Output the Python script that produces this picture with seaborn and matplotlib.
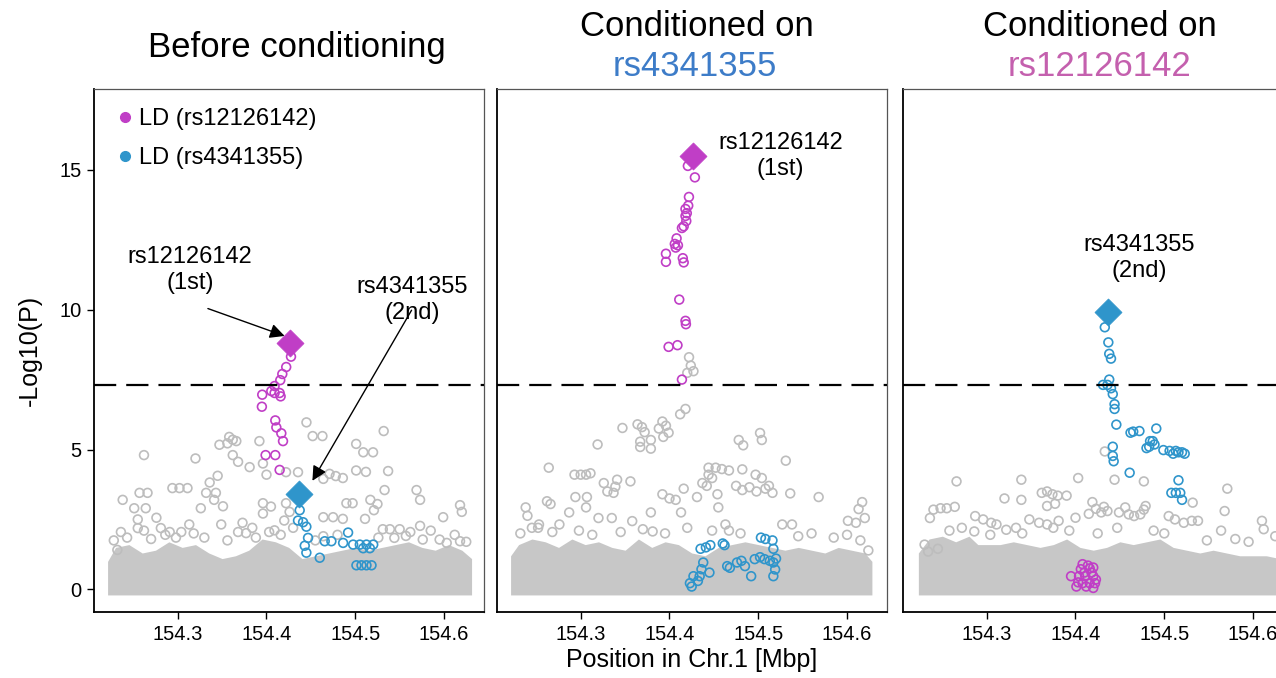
import matplotlib
matplotlib.use('Agg')
import matplotlib.pyplot as plt
from matplotlib.lines import Line2D
import seaborn as sns

# ---- data (position in Mbp, -log10 P) ----
lead1_pos, lead2_pos = 154.427, 154.437   # rs12126142, rs4341355
gw_line = 7.30

# panel 1: before conditioning
p1_lead1_logp = 8.80
p1_lead2_logp = 3.40
p1_mag_pos = [154.4276, 154.4222, 154.4178, 154.4155, 154.4091, 154.4054, 154.4091, 154.4148,
              154.4159, 154.3952, 154.3948, 154.4099, 154.4111, 154.4167, 154.4186, 154.3990,
              154.4099, 154.4148]
p1_mag_logp = [8.32, 7.95, 7.70, 7.48, 7.27, 7.09, 7.02, 7.02,
               6.90, 6.96, 6.53, 6.04, 5.79, 5.58, 5.30, 4.80,
               4.80, 4.27]
p1_blue_pos = [154.4374, 154.4355, 154.4412, 154.4449, 154.4468, 154.4431, 154.4449, 154.4600,
               154.4656, 154.4731, 154.4863, 154.4919, 154.4976, 154.5051, 154.5126, 154.5202,
               154.5089, 154.5164, 154.5070, 154.5126, 154.5183, 154.5013]
p1_blue_logp = [2.83, 2.46, 2.40, 2.24, 1.84, 1.56, 1.31, 1.13,
                1.72, 1.72, 1.66, 2.03, 1.60, 1.60, 1.60, 1.60,
                1.47, 1.47, 0.86, 0.86, 0.86, 0.86]
p1_grey_pos = [154.445, 154.532, 154.452, 154.463, 154.358, 154.362, 154.366, 154.356, 154.347,
               154.362, 154.368, 154.381, 154.392, 154.396, 154.262, 154.320, 154.422, 154.4355,
               154.471, 154.478, 154.486, 154.464, 154.501, 154.509, 154.520, 154.501, 154.512,
               154.537, 154.533, 154.569, 154.573, 154.618, 154.620, 154.599, 154.618, 154.238,
               154.257, 154.266, 154.251, 154.264, 154.294, 154.302, 154.311, 154.336, 154.332,
               154.343, 154.345, 154.341, 154.326, 154.351, 154.349, 154.373, 154.377, 154.368,
               154.313, 154.276, 154.281, 154.291, 154.304, 154.255, 154.255, 154.236, 154.396,
               154.405, 154.396, 154.409, 154.420, 154.422, 154.426, 154.464, 154.475, 154.486,
               154.490, 154.497, 154.517, 154.521, 154.525, 154.511, 154.531, 154.539, 154.550,
               154.544, 154.557, 154.573, 154.576, 154.595, 154.603, 154.464, 154.232, 154.400,
               154.228, 154.243, 154.262, 154.270, 154.286, 154.298, 154.318, 154.330, 154.356,
               154.384, 154.388, 154.403, 154.416, 154.430, 154.455, 154.480, 154.526, 154.562,
               154.585, 154.612, 154.625]
p1_grey_logp = [5.97, 5.66, 5.48, 5.48, 5.45, 5.35, 5.30, 5.22, 5.17,
                4.80, 4.56, 4.37, 5.30, 4.50, 4.80, 4.68, 4.19, 4.19,
                4.13, 4.05, 3.98, 3.95, 5.20, 4.90, 4.90, 4.25, 4.20,
                4.23, 3.55, 3.55, 3.20, 3.01, 2.77, 2.58, 1.72, 3.20,
                3.45, 3.45, 2.90, 2.90, 3.62, 3.62, 3.62, 3.82, 3.45,
                3.45, 4.06, 3.20, 2.90, 2.97, 2.32, 2.38, 2.01, 2.05,
                2.32, 2.56, 2.19, 2.05, 2.05, 2.50, 2.19, 2.05, 3.08,
                2.96, 2.71, 2.11, 2.46, 3.08, 2.77, 2.58, 2.58, 2.52,
                3.08, 3.08, 3.20, 2.83, 3.05, 2.52, 2.15, 2.15, 2.15,
                1.84, 1.91, 2.27, 1.78, 1.78, 1.66, 1.90, 1.41, 4.10,
                1.75, 1.85, 2.10, 1.80, 1.95, 1.85, 2.00, 1.85, 1.75,
                2.20, 1.85, 2.05, 1.95, 2.20, 1.75, 1.95, 1.85, 2.05,
                2.10, 1.95, 1.70]
p1_band_pos = [154.221, 154.230, 154.245, 154.260, 154.275, 154.290, 154.305, 154.320, 154.335,
               154.350, 154.365, 154.380, 154.395, 154.410, 154.425, 154.440, 154.455, 154.470,
               154.485, 154.500, 154.515, 154.530, 154.545, 154.560, 154.575, 154.590, 154.605,
               154.620, 154.631]
p1_band_top = [1.0, 1.5, 1.6, 1.3, 1.4, 1.7, 1.5, 1.6, 1.3,
               1.1, 1.2, 1.4, 1.8, 1.7, 1.5, 1.1, 1.2, 1.3,
               1.4, 1.5, 1.4, 1.5, 1.6, 1.7, 1.5, 1.4, 1.6,
               1.4, 1.1]

# panel 2: conditioned on rs4341355
p2_lead1_logp = 15.49
p2_mag_pos = [154.4207, 154.4286, 154.4219, 154.4211, 154.4180, 154.4195, 154.4180, 154.4189,
              154.4160, 154.4140, 154.4080, 154.4060, 154.4095, 154.4070, 154.3960, 154.3960,
              154.4150, 154.4160, 154.4110, 154.4180, 154.4185, 154.3990, 154.4090, 154.4140]
p2_mag_logp = [15.14, 14.73, 14.03, 13.72, 13.60, 13.45, 13.35, 13.17,
               12.98, 12.92, 12.55, 12.35, 12.30, 12.22, 12.00, 11.71,
               11.84, 11.69, 10.36, 9.60, 9.48, 8.67, 8.73, 7.50]
p2_blue_pos = [154.435, 154.441, 154.446, 154.460, 154.462, 154.503, 154.508, 154.516, 154.517,
               154.438, 154.436, 154.434, 154.427, 154.423, 154.425, 154.465, 154.468, 154.476,
               154.481, 154.485, 154.492, 154.496, 154.502, 154.507, 154.513, 154.517, 154.519,
               154.517, 154.520, 154.445, 154.432]
p2_blue_logp = [1.45, 1.50, 1.58, 1.64, 1.58, 1.85, 1.80, 1.75, 1.45,
                0.96, 0.72, 0.47, 0.47, 0.22, 0.10, 0.83, 0.77, 0.96,
                1.02, 0.83, 0.47, 1.08, 1.15, 1.08, 1.02, 0.96, 0.71,
                0.47, 1.10, 0.60, 0.30]
p2_grey_pos = [154.422, 154.424, 154.427, 154.420, 154.418, 154.412, 154.392, 154.396, 154.399,
               154.393, 154.388, 154.364, 154.369, 154.372, 154.347, 154.367, 154.379, 154.379,
               154.367, 154.319, 154.264, 154.293, 154.300, 154.306, 154.311, 154.326, 154.341,
               154.339, 154.356, 154.330, 154.337, 154.294, 154.307, 154.306, 154.238, 154.240,
               154.262, 154.266, 154.287, 154.276, 154.253, 154.252, 154.320, 154.335, 154.358,
               154.379, 154.392, 154.400, 154.407, 154.416, 154.413, 154.431, 154.437, 154.444,
               154.452, 154.459, 154.467, 154.444, 154.448, 154.442, 154.482, 154.478, 154.483,
               154.502, 154.504, 154.497, 154.504, 154.512, 154.516, 154.475, 154.482, 154.490,
               154.498, 154.508, 154.531, 154.536, 154.568, 154.617, 154.613, 154.620, 154.601,
               154.610, 154.624, 154.454, 154.455, 154.463, 154.467, 154.527, 154.538, 154.381,
               154.232, 154.245, 154.268, 154.298, 154.313, 154.345, 154.370, 154.395, 154.420,
               154.448, 154.480, 154.545, 154.560, 154.585, 154.600, 154.615]
p2_grey_logp = [8.30, 8.00, 7.80, 7.74, 6.45, 6.26, 6.00, 5.85, 5.60,
                5.45, 5.75, 5.90, 5.80, 5.62, 5.77, 5.28, 5.34, 5.03,
                5.09, 5.18, 4.35, 4.10, 4.10, 4.10, 4.15, 3.80, 3.92,
                3.67, 3.86, 3.50, 3.45, 3.30, 3.30, 2.93, 2.93, 2.63,
                3.15, 3.05, 2.75, 2.32, 2.32, 2.20, 2.55, 2.55, 2.44,
                2.75, 3.40, 3.25, 3.20, 3.60, 2.75, 3.30, 3.80, 4.35,
                4.35, 4.30, 4.25, 4.10, 3.98, 3.70, 4.29, 5.34, 5.15,
                5.59, 5.34, 4.10, 3.98, 3.70, 3.45, 3.70, 3.55, 3.65,
                3.50, 3.60, 4.60, 3.43, 3.30, 3.12, 2.87, 2.55, 2.45,
                2.38, 1.39, 3.40, 2.93, 2.32, 2.10, 2.32, 2.32, 2.07,
                2.00, 2.20, 2.05, 2.10, 1.95, 2.05, 2.15, 2.00, 2.20,
                2.10, 2.00, 1.90, 2.00, 1.85, 1.95, 1.75]
p2_band_pos = [154.221, 154.230, 154.245, 154.260, 154.275, 154.290, 154.305, 154.320, 154.335,
               154.350, 154.365, 154.380, 154.395, 154.410, 154.425, 154.440, 154.455, 154.470,
               154.485, 154.500, 154.515, 154.530, 154.545, 154.560, 154.575, 154.590, 154.605,
               154.620, 154.628]
p2_band_top = [1.2, 1.6, 1.8, 1.7, 1.5, 1.8, 1.6, 1.7, 1.5,
               1.4, 1.8, 1.5, 1.7, 1.6, 1.3, 1.2, 1.5, 1.6,
               1.7, 1.6, 1.5, 1.4, 1.5, 1.4, 1.3, 1.5, 1.4,
               1.3, 1.0]

# panel 3: conditioned on rs12126142
p3_lead2_logp = 9.90
p3_blue_pos = [154.433, 154.437, 154.438, 154.440, 154.438, 154.431, 154.436, 154.440, 154.442,
               154.444, 154.444, 154.446, 154.462, 154.465, 154.472, 154.491, 154.484, 154.487,
               154.489, 154.483, 154.480, 154.499, 154.506, 154.513, 154.520, 154.510, 154.516,
               154.523, 154.442, 154.442, 154.443, 154.461, 154.516, 154.508, 154.513, 154.518,
               154.520]
p3_blue_logp = [9.37, 8.83, 8.42, 8.25, 7.50, 7.31, 7.31, 7.19, 6.98,
                6.62, 6.45, 5.89, 5.60, 5.64, 5.66, 5.75, 5.30, 5.30,
                5.18, 5.10, 5.05, 4.98, 4.95, 4.95, 4.90, 4.85, 4.90,
                4.85, 5.10, 4.77, 4.58, 4.17, 3.90, 3.45, 3.45, 3.45,
                3.20]
p3_mag_pos = [154.408, 154.414, 154.420, 154.406, 154.410, 154.418, 154.404, 154.411, 154.420,
              154.395, 154.403, 154.408, 154.416, 154.422, 154.401, 154.412, 154.420, 154.423,
              154.416]
p3_mag_logp = [0.90, 0.85, 0.78, 0.72, 0.60, 0.60, 0.47, 0.47, 0.47,
               0.47, 0.25, 0.22, 0.22, 0.22, 0.10, 0.10, 0.05, 0.35,
               0.75]
p3_grey_pos = [154.433, 154.444, 154.477, 154.403, 154.339, 154.266, 154.320, 154.339, 154.362,
               154.368, 154.374, 154.380, 154.390, 154.377, 154.368, 154.419, 154.423, 154.429,
               154.432, 154.415, 154.436, 154.449, 154.456, 154.460, 154.466, 154.473, 154.477,
               154.479, 154.571, 154.532, 154.505, 154.512, 154.522, 154.531, 154.538, 154.568,
               154.564, 154.610, 154.612, 154.240, 154.248, 154.255, 154.264, 154.236, 154.287,
               154.296, 154.305, 154.311, 154.322, 154.333, 154.348, 154.359, 154.368, 154.375,
               154.381, 154.400, 154.286, 154.304, 154.230, 154.234, 154.245,
               154.258, 154.272, 154.340, 154.393, 154.425, 154.447, 154.488, 154.500, 154.548,
               154.580, 154.595, 154.625]
p3_grey_logp = [4.93, 3.92, 3.86, 3.98, 3.92, 3.86, 3.25, 3.20, 3.45,
                3.50, 3.40, 3.35, 3.35, 3.06, 2.98, 3.12, 2.88, 2.75,
                2.95, 2.70, 2.80, 2.75, 2.93, 2.68, 2.62, 2.68, 2.85,
                2.98, 3.60, 3.10, 2.62, 2.50, 2.38, 2.45, 2.45, 2.80,
                2.10, 2.45, 2.15, 2.85, 2.90, 2.90, 2.95, 2.55, 2.62,
                2.50, 2.38, 2.32, 2.13, 2.20, 2.50, 2.38, 2.32, 2.20,
                2.45, 2.56, 2.07, 1.95, 1.60, 1.35, 1.45,
                2.10, 2.20, 2.00, 2.10, 2.00, 2.20, 2.10, 2.00, 1.75,
                1.80, 1.70, 1.90]
p3_band_pos = [154.223, 154.235, 154.250, 154.265, 154.280, 154.290, 154.315, 154.330, 154.345,
               154.360, 154.375, 154.390, 154.405, 154.420, 154.435, 154.450, 154.465, 154.480,
               154.495, 154.510, 154.525, 154.540, 154.555, 154.570, 154.585, 154.600, 154.615,
               154.630, 154.640]
p3_band_top = [1.3, 1.8, 1.9, 1.7, 1.9, 1.6, 1.6, 1.7, 1.6,
               1.5, 1.6, 1.8, 1.5, 1.4, 1.5, 1.7, 1.6, 1.7,
               1.8, 1.5, 1.4, 1.3, 1.4, 1.3, 1.2, 1.2, 1.2,
               1.1, 1.1]

x_ticks = [154.3, 154.4, 154.5, 154.6]
y_ticks = [0, 5, 10, 15]

# ---- style ----
sns.set_style('white')
plt.rcParams['font.family'] = ['Liberation Sans', 'DejaVu Sans']
plt.rcParams['text.color'] = 'black'
plt.rcParams['xtick.color'] = 'black'
plt.rcParams['ytick.color'] = 'black'

MAG = '#C03EC6'
BLUE = '#2F95CB'
GREY = '#BDBDBD'
BAND = '#C7C7C7'

W, H = 1276, 678
fig = plt.figure(figsize=(W / 100, H / 100), dpi=100)


def px_axes(left, top, right, bottom):
    return fig.add_axes([left / W, 1 - bottom / H, (right - left) / W, (bottom - top) / H])


axes = [px_axes(94, 89, 484, 612), px_axes(497, 89, 887, 612), px_axes(903, 89, 1293, 612)]


def open_pts(ax, pos, logp, col, z):
    sns.scatterplot(x=pos, y=logp, ax=ax, marker='o', s=40, color=col, facecolor='none',
                    edgecolor=col, linewidth=1.2, zorder=z, legend=False)


def lead_pt(ax, pos, logp, col):
    sns.scatterplot(x=[pos], y=[logp], ax=ax, marker='D', s=190, color=col, edgecolor=col,
                    linewidth=0.5, zorder=6, legend=False)


panels = [
    dict(band=(p1_band_pos, p1_band_top), grey=(p1_grey_pos, p1_grey_logp),
         mag=(p1_mag_pos, p1_mag_logp), blue=(p1_blue_pos, p1_blue_logp),
         leads=[(lead1_pos, p1_lead1_logp, MAG), (lead2_pos, p1_lead2_logp, BLUE)]),
    dict(band=(p2_band_pos, p2_band_top), grey=(p2_grey_pos, p2_grey_logp),
         mag=(p2_mag_pos, p2_mag_logp), blue=(p2_blue_pos, p2_blue_logp),
         leads=[(lead1_pos, p2_lead1_logp, MAG)]),
    dict(band=(p3_band_pos, p3_band_top), grey=(p3_grey_pos, p3_grey_logp),
         mag=(p3_mag_pos, p3_mag_logp), blue=(p3_blue_pos, p3_blue_logp),
         leads=[(lead2_pos, p3_lead2_logp, BLUE)]),
]

for i, (ax, p) in enumerate(zip(axes, panels)):
    ax.fill_between(p['band'][0], -0.2, p['band'][1], color=BAND, lw=0, zorder=1)
    open_pts(ax, *p['grey'], GREY, 2)
    open_pts(ax, *p['mag'], MAG, 4)
    open_pts(ax, *p['blue'], BLUE, 4)
    for pos, lp, col in p['leads']:
        lead_pt(ax, pos, lp, col)
    ax.axhline(gw_line, color='black', lw=1.6, ls=(0, (10, 4.5)), zorder=5)

    ax.set_xlim(154.2057, 154.645)
    ax.set_ylim(-0.81, 17.89)
    ax.set_xticks(x_ticks)
    ax.set_xticklabels([f'{t:.1f}' for t in x_ticks])
    ax.set_xlabel('')
    ax.set_ylabel('')
    ax.tick_params(axis='x', direction='out', length=5, width=1, color='black',
                   labelcolor='black', labelsize=14.5, pad=4, bottom=True)
    if i == 0:
        ax.set_yticks(y_ticks)
        ax.tick_params(axis='y', direction='out', length=5, width=1, color='black',
                       labelcolor='black', labelsize=14.5, pad=4, left=True)
    else:
        ax.set_yticks([])
    for side in ['top', 'right']:
        ax.spines[side].set_color('#555555')
        ax.spines[side].set_linewidth(0.9)
    for side in ['left', 'bottom']:
        ax.spines[side].set_color('black')
        ax.spines[side].set_linewidth(1.3)

# legend in first panel
handles = [Line2D([], [], ls='none', marker='o', ms=7, color=MAG),
           Line2D([], [], ls='none', marker='o', ms=7, color=BLUE)]
axes[0].legend(handles, ['LD (rs12126142)', 'LD (rs4341355)'], loc='upper left',
               frameon=False, fontsize=17, handletextpad=0.1, borderaxespad=0.45,
               labelspacing=0.72, handlelength=1.0, borderpad=0.35, labelcolor='black')

# annotations
ann = dict(fontsize=17, ha='center', va='center', linespacing=1.25, zorder=7, color='black')
axes[0].text(154.314, 11.42, 'rs12126142\n(1st)', **ann)
axes[0].text(154.564, 10.35, 'rs4341355\n(2nd)', **ann)
arrow = dict(arrowstyle='-|>', color='black', lw=1.0, mutation_scale=22, shrinkA=0, shrinkB=0)
axes[0].annotate('', xy=(154.4204, 9.06), xytext=(154.334, 10.04), arrowprops=arrow)
axes[0].annotate('', xy=(154.4517, 3.88), xytext=(154.5634, 9.98), arrowprops=arrow)
axes[1].text(154.525, 15.5, 'rs12126142\n(1st)', **ann)
axes[2].text(154.472, 11.85, 'rs4341355\n(2nd)', **ann)

# titles
fig.text(297 / W, 1 - 48 / H, 'Before conditioning', fontsize=25, ha='center', va='center')
fig.text(697 / W, 1 - 27 / H, 'Conditioned on', fontsize=25, ha='center', va='center')
fig.text(695 / W, 1 - 66 / H, 'rs4341355', fontsize=25, ha='center', va='center', color='#3D7CC8')
fig.text(1100 / W, 1 - 27 / H, 'Conditioned on', fontsize=25, ha='center', va='center')
fig.text(1100 / W, 1 - 66 / H, 'rs12126142', fontsize=25, ha='center', va='center', color='#C460AE')

# axis labels
fig.text(30 / W, 1 - 350 / H, '-Log10(P)', fontsize=18, rotation=90, ha='center', va='center')
fig.text(692 / W, 1 - 660 / H, 'Position in Chr.1 [Mbp]', fontsize=18, ha='center', va='center')

fig.savefig('out.png', dpi=100)
